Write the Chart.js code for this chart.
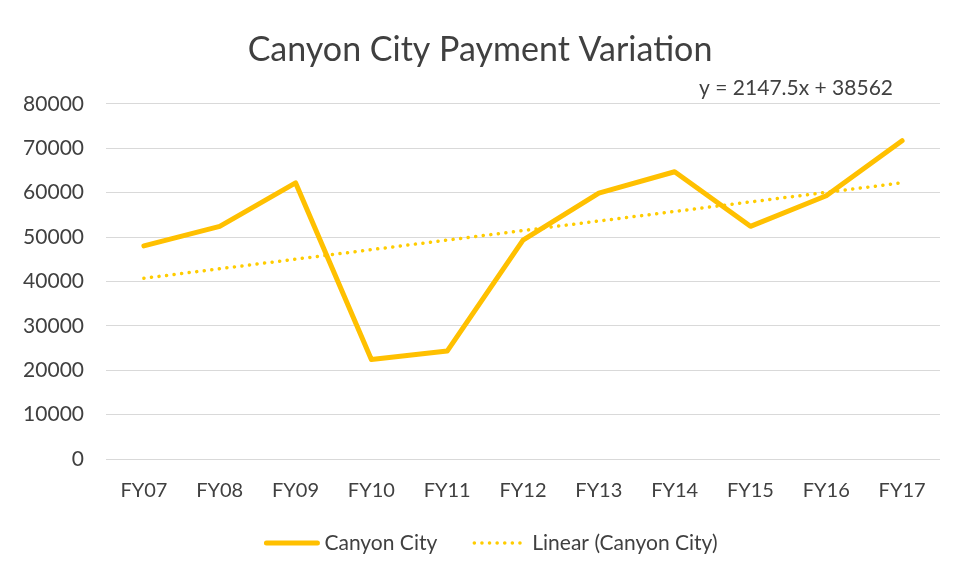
<!DOCTYPE html>
<html>
<head>
<meta charset="utf-8">
<script src="https://cdn.jsdelivr.net/npm/chart.js@4.4.0/dist/chart.umd.min.js"></script>
<style>
  html, body { margin: 0; padding: 0; background: #fff; }
  #chart { display: block; }
</style>
</head>
<body>
<canvas id="chart" width="956" height="577"></canvas>
<script>
// Chart data
const years = ['FY07', 'FY08', 'FY09', 'FY10', 'FY11', 'FY12', 'FY13', 'FY14', 'FY15', 'FY16', 'FY17'];
const payments = [48000, 52400, 62200, 22400, 24300, 49300, 59900, 64700, 52400, 59300, 71700];
const trend = [40700, 42850, 45000, 47150, 49300, 51450, 53600, 55750, 57900, 60050, 62200];
const yTicks = [0, 10000, 20000, 30000, 40000, 50000, 60000, 70000, 80000];
const trendLabel = 'y = 2147.5x + 38562';

const font = 'Lato, "Open Sans", sans-serif';
const textColor = '#404040';

// trendline equation above the plot
const equationPlugin = {
  id: 'equation',
  afterDraw(chart) {
    const ctx = chart.ctx;
    ctx.save();
    ctx.font = '21px ' + font;
    ctx.fillStyle = textColor;
    ctx.textAlign = 'right';
    ctx.textBaseline = 'middle';
    ctx.fillText(trendLabel, chart.chartArea.right - 47, chart.chartArea.top - 16);
    ctx.restore();
  }
};

// legend at the bottom, using each dataset's own line style
const legendPlugin = {
  id: 'lineLegend',
  afterDraw(chart) {
    const ctx = chart.ctx;
    const lineLen = 55, gapText = 5, gapItem = 35, centerX = 491, y = 543;
    ctx.save();
    ctx.font = '21px ' + font;
    const items = chart.data.datasets.map(ds => ({ ds, w: ctx.measureText(ds.label).width }));
    let total = items.reduce((s, it) => s + lineLen + gapText + it.w, 0) + gapItem * (items.length - 1);
    let x = centerX - total / 2;
    items.forEach(({ ds, w }) => {
      ctx.beginPath();
      ctx.strokeStyle = ds.borderColor;
      ctx.lineWidth = ds.borderWidth;
      ctx.lineCap = ds.borderCapStyle || 'butt';
      ctx.setLineDash(ds.borderDash || []);
      ctx.moveTo(x + 2, y);
      ctx.lineTo(x + lineLen - 2, y);
      ctx.stroke();
      ctx.setLineDash([]);
      ctx.fillStyle = textColor;
      ctx.textAlign = 'left';
      ctx.textBaseline = 'middle';
      ctx.fillText(ds.label, x + lineLen + gapText, y);
      x += lineLen + gapText + w + gapItem;
    });
    ctx.restore();
  }
};

function drawChart() {
  const ctx = document.getElementById('chart').getContext('2d');
  new Chart(ctx, {
    type: 'line',
    data: {
      labels: years,
      datasets: [
        {
          label: 'Canyon City',
          data: payments,
          borderColor: '#FFC000',
          backgroundColor: '#FFC000',
          borderWidth: 5,
          borderCapStyle: 'round',
          borderJoinStyle: 'round',
          pointRadius: 0,
          tension: 0
        },
        {
          label: 'Linear (Canyon City)',
          data: trend,
          borderColor: '#FFCC00',
          backgroundColor: '#FFCC00',
          borderWidth: 3.5,
          borderDash: [0.1, 7.5],
          borderCapStyle: 'round',
          pointRadius: 0,
          tension: 0
        }
      ]
    },
    options: {
      responsive: false,
      animation: false,
      layout: { padding: { left: 20, right: 16, top: 0, bottom: 62 } },
      plugins: {
        title: {
          display: true,
          text: 'Canyon City Payment Variation',
          color: textColor,
          font: { family: font, size: 34, weight: 'normal' },
          padding: { top: 30, bottom: 33 }
        },
        legend: { display: false },
        tooltip: { enabled: false }
      },
      scales: {
        x: {
          offset: true,
          grid: { display: false },
          border: { display: false },
          ticks: { color: textColor, font: { family: font, size: 20 }, padding: 12 }
        },
        y: {
          min: 0,
          max: 80000,
          afterBuildTicks(scale) {
            scale.ticks = yTicks.map(v => ({ value: v }));
          },
          afterFit(scale) { scale.width = 86; },
          grid: { color: '#d9d9d9', lineWidth: 1, drawTicks: false },
          border: { display: false },
          ticks: {
            color: textColor,
            font: { family: font, size: 21 },
            padding: 22,
            callback: v => String(v)
          }
        }
      }
    },
    plugins: [equationPlugin, legendPlugin]
  });
}

// make sure Lato is ready before measuring tick labels
Promise.all([
  document.fonts.load('20px Lato'),
  document.fonts.load('34px Lato')
]).then(drawChart, drawChart);
</script>
</body>
</html>
